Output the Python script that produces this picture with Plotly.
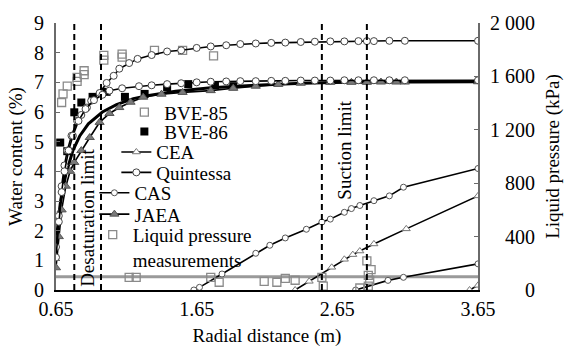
import plotly.graph_objects as go

# ---------------- data ----------------
# Water content (%) measurements
bve85_x = [0.69, 0.70, 0.73, 0.80, 0.80, 0.85, 0.85, 0.99, 0.99, 1.12, 1.12, 1.35, 1.55, 1.77]
bve85_w = [6.32, 6.61, 6.87, 7.03, 7.17, 7.26, 7.39, 7.75, 7.91, 7.85, 7.95, 8.08, 8.08, 7.89]
bve86_x = [0.68, 0.73, 0.78, 0.83, 0.91, 1.01, 1.14, 1.28, 1.44, 1.59, 1.78, 1.91]
bve86_w = [4.97, 4.68, 5.99, 6.32, 6.51, 6.68, 6.51, 6.61, 6.84, 6.94, 6.90, 6.87]

# Quintessa water content (two tests)
quin_a_x = [0.65, 0.67, 0.69, 0.71, 0.73, 0.76, 0.80, 0.83, 0.87, 0.90, 0.96, 1.01, 1.06, 1.10, 1.17, 1.23,
            1.33, 1.44, 1.54, 1.65, 1.75, 1.86, 1.96, 2.07, 2.18, 2.28, 2.39, 2.49, 2.60, 2.70, 2.80,
            2.86, 2.91, 3.02, 3.13, 3.65]
quin_a_w = [1.45, 2.5, 3.5, 4.2, 4.7, 5.2, 5.7, 5.9, 6.15, 6.38, 6.64, 6.98, 7.22, 7.46, 7.65, 7.79,
            7.92, 8.04, 8.08, 8.16, 8.21, 8.25, 8.29, 8.31, 8.33, 8.34, 8.36, 8.37, 8.38, 8.38, 8.39,
            8.39, 8.39, 8.40, 8.40, 8.40]
quin_b_x = [0.65, 0.67, 0.69, 0.71, 0.74, 0.77, 0.81, 0.86, 0.92, 0.98, 1.03, 1.12, 1.24, 1.33, 1.44,
            1.54, 1.65, 1.75, 1.86, 1.96, 2.07, 2.18, 2.28, 2.39, 2.49, 2.60, 2.70, 2.80, 2.91, 3.02,
            3.13, 3.65]
quin_b_w = [1.1, 2.3, 3.3, 4.0, 4.7, 5.2, 5.7, 6.1, 6.4, 6.58, 6.72, 6.8, 6.87, 6.9, 6.94,
            6.97, 7.0, 7.02, 7.03, 7.04, 7.04, 7.05, 7.05, 7.06, 7.06, 7.06, 7.07, 7.07, 7.07, 7.07,
            7.07, 7.07]

# JAEA water content (triangles)
jaea_x = [0.65, 0.67, 0.69, 0.72, 0.75, 0.78, 0.83, 0.89, 0.96, 1.03, 1.10, 1.18, 1.27, 1.40, 1.55,
          1.75, 1.91, 2.07, 2.23, 2.39, 2.60, 2.75, 2.86, 2.96, 3.07, 3.13, 3.65]
jaea_w = [0.75, 1.8, 2.7, 3.5, 4.0, 4.3, 4.7, 5.14, 5.65, 5.95, 6.15, 6.33, 6.5, 6.6, 6.66,
          6.72, 6.8, 6.87, 6.93, 6.97, 7.0, 7.0, 7.0, 7.01, 7.01, 7.01, 7.02]

# additional (thick) water content simulation
thick_x = [0.65, 0.68, 0.72, 0.77, 0.82, 0.88, 0.98, 1.08, 1.20, 1.31, 1.50, 1.75, 2.07, 2.40, 2.70, 3.65]
thick_w = [1.6, 2.9, 3.9, 4.7, 5.2, 5.6, 6.0, 6.25, 6.45, 6.56, 6.7, 6.82, 6.9, 6.97, 7.0, 7.02]

# Liquid pressure (kPa) simulations
cas_a_x = [1.63, 1.67, 1.83, 2.07, 2.17, 2.28, 2.43, 2.54, 2.60, 2.70, 2.75, 2.81, 2.91, 3.02, 3.12, 3.65]
cas_a_p = [0, 20, 120, 275, 335, 390, 455, 509, 531, 582, 610, 633, 669, 705, 770, 910]
cas_b_x = [2.78, 3.01, 3.12, 3.65]
cas_b_p = [0, 72, 95, 196]
cea_a_x = [2.35, 2.45, 2.61, 2.70, 2.76, 2.81, 2.91, 3.14, 3.65]
cea_a_p = [0, 65, 170, 230, 265, 292, 345, 458, 705]
cea_b_x = [3.59, 3.65]
cea_b_p = [0, 35]

# Liquid pressure measurements
lpm_x = [1.17, 1.22, 1.75, 1.81, 2.13, 2.22, 2.28, 2.35, 2.54, 2.55, 2.81, 2.86, 2.87, 2.87, 2.88, 2.89]
lpm_p = [95, 95, 95, 58, 65, 58, 87, 73, 95, 29, 15, 218, 29, 109, 73, 153]

ref_pressure = 100          # kPa reference line
desat_limits = [0.78, 0.97]
suction_limits = [2.54, 2.86]

x_ticks = [0.65, 1.65, 2.65, 3.65]
y_ticks = [0, 1, 2, 3, 4, 5, 6, 7, 8, 9]
y2_ticks = [0, 400, 800, 1200, 1600, 2000]
y2_ticktext = ["\u2007\u2007\u2007\u00a00", "\u2007\u00a0400", "\u2007\u00a0800",
               "1\u00a0200", "1\u00a0600", "2\u00a0000"]

FONT = "Liberation Serif"

fig = go.Figure()

sq_open = dict(symbol="square-open", size=8, color="#8a8a8a", line=dict(width=1.3))
tri_open = dict(symbol="triangle-up", size=7, color="white", line=dict(color="#777777", width=1))
tri_fill = dict(symbol="triangle-up", size=8, color="#7a7a7a", line=dict(color="#555555", width=1))
circ_big = dict(symbol="circle", size=7, color="white", line=dict(color="#444444", width=1))
circ_small = dict(symbol="circle", size=6, color="white", line=dict(color="#555555", width=1))
ln = dict(color="black", width=1.6)

fig.add_trace(go.Scatter(x=bve85_x, y=bve85_w, mode="markers", name="BVE-85", legend="legend",
                         marker=sq_open))
fig.add_trace(go.Scatter(x=bve86_x, y=bve86_w, mode="markers", name="BVE-86", legend="legend2",
                         marker=dict(symbol="square", size=8, color="black")))
fig.add_trace(go.Scatter(x=cea_a_x, y=cea_a_p, yaxis="y2", mode="lines+markers", name="CEA",
                         legend="legend3", line=ln, marker=tri_open))
fig.add_trace(go.Scatter(x=cea_b_x, y=cea_b_p, yaxis="y2", mode="lines+markers", showlegend=False,
                         line=ln, marker=tri_open))
fig.add_trace(go.Scatter(x=thick_x, y=thick_w, mode="lines", showlegend=False,
                         line=dict(color="black", width=3)))
fig.add_trace(go.Scatter(x=jaea_x, y=jaea_w, mode="lines+markers", name="JAEA", legend="legend6",
                         line=ln, marker=tri_fill))
fig.add_trace(go.Scatter(x=quin_a_x, y=quin_a_w, mode="lines+markers", name="Quintessa",
                         legend="legend4", line=ln, marker=circ_big))
fig.add_trace(go.Scatter(x=quin_b_x, y=quin_b_w, mode="lines+markers", showlegend=False,
                         line=ln, marker=circ_big))
fig.add_trace(go.Scatter(x=cas_a_x, y=cas_a_p, yaxis="y2", mode="lines+markers", name="CAS",
                         legend="legend5", line=ln, marker=circ_small))
fig.add_trace(go.Scatter(x=cas_b_x, y=cas_b_p, yaxis="y2", mode="lines+markers", showlegend=False,
                         line=ln, marker=circ_small))
fig.add_trace(go.Scatter(x=lpm_x, y=lpm_p, yaxis="y2", mode="markers",
                         name="Liquid pressure<br>measurements", legend="legend7", marker=sq_open))

shapes = []
for xv in desat_limits + suction_limits:
    shapes.append(dict(type="line", xref="x", yref="y", x0=xv, x1=xv, y0=0, y1=9,
                       line=dict(color="black", width=2, dash="6px,4px")))
shapes.append(dict(type="line", xref="x", yref="y2", x0=x_ticks[0], x1=x_ticks[-1],
                   y0=ref_pressure, y1=ref_pressure, layer="below",
                   line=dict(color="#9a9a9a", width=3)))

annotations = [
    dict(x=0.875, y=2.42, xref="x", yref="y", text="Desaturation limit", textangle=-90,
         showarrow=False, font=dict(size=19, family=FONT, color="black")),
    dict(x=2.70, y=4.71, xref="x", yref="y", text="Suction limit", textangle=-90,
         showarrow=False, font=dict(size=19, family=FONT, color="black")),
]


def leg(xp, yp, yanchor="middle", valign="middle"):
    return dict(x=xp, y=yp, xanchor="left", yanchor=yanchor, bgcolor="rgba(0,0,0,0)",
                font=dict(size=19, family=FONT, color="black"), itemwidth=30, valign=valign)


fig.update_layout(
    width=572, height=355,
    margin=dict(l=56, r=89, t=15, b=65),
    paper_bgcolor="white", plot_bgcolor="white",
    font=dict(family=FONT, size=19, color="black"),
    shapes=shapes, annotations=annotations,
    xaxis=dict(range=[0.65, 3.65], tickvals=x_ticks, ticktext=[f"{v:.2f}" for v in x_ticks],
               showgrid=False, zeroline=False, showline=True, linecolor="black", linewidth=2,
               ticks="", tickfont=dict(size=20, family=FONT, color="black"), ticklabelstandoff=0,
               title=dict(text="Radial distance (m)", font=dict(size=19, family=FONT, color="black"),
                          standoff=10)),
    yaxis=dict(range=[0, 9], tickvals=y_ticks, showgrid=False, zeroline=False,
               showline=True, linecolor="#6a6a6a", linewidth=2,
               ticks="inside", ticklen=4, tickcolor="#6a6a6a",
               tickfont=dict(size=20, family=FONT, color="black"), ticklabelstandoff=6,
               title=dict(text="Water content (%)", font=dict(size=19, family=FONT, color="black"),
                          standoff=6)),
    yaxis2=dict(range=[0, 2000], tickvals=y2_ticks, ticktext=y2_ticktext, overlaying="y", side="right",
                showgrid=False, zeroline=False, showline=True, linecolor="#6a6a6a", linewidth=2,
                ticks="inside", ticklen=4, tickcolor="#6a6a6a",
                tickfont=dict(size=20, family=FONT, color="black"), ticklabelstandoff=6,
                title=dict(text="Liquid pressure (kPa)", font=dict(size=19, family=FONT, color="black"),
                           standoff=12)),
    legend=leg(0.162, 0.6655),
    legend2=leg(0.162, 0.5927),
    legend3=leg(0.143, 0.5164),
    legend4=leg(0.143, 0.44),
    legend5=leg(0.091, 0.3636),
    legend6=leg(0.091, 0.2836),
    legend7=leg(0.087, 0.16, valign="top"),
)

fig.write_html("out.html")
